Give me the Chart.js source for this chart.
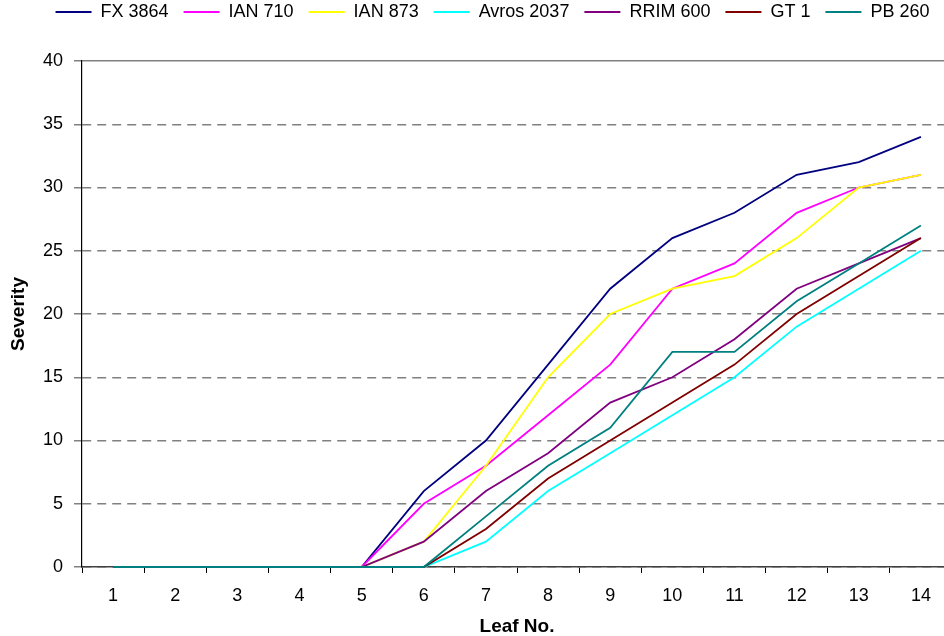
<!DOCTYPE html>
<html>
<head>
<meta charset="utf-8">
<script src="https://cdn.jsdelivr.net/npm/chart.js@4/dist/chart.umd.min.js"></script>
<style>
  html, body { margin: 0; padding: 0; background: #fff; overflow: hidden; }
  #frame { position: relative; width: 944px; height: 636px; overflow: hidden; background: #fff; }
  #box { position: absolute; left: 0; top: -12px; width: 985px; height: 648px; }
</style>
</head>
<body>
<div id="frame"><div id="box"><canvas id="c" width="985" height="648"></canvas></div></div>
<script>
// Leaf positions along the x axis
const leafNumbers = ['1', '2', '3', '4', '5', '6', '7', '8', '9', '10', '11', '12', '13', '14'];

// Disease severity per clone, one value per leaf
const fx3864    = [0, 0, 0, 0, 0, 6, 10, 16, 22, 26, 28, 31, 32, 34];
const ian710    = [0, 0, 0, 0, 0, 5, 8, 12, 16, 22, 24, 28, 30, 31];
const ian873    = [0, 0, 0, 0, 0, 2, 8, 15, 20, 22, 23, 26, 30, 31];
const avros2037 = [0, 0, 0, 0, 0, 0, 2, 6, 9, 12, 15, 19, 22, 25];
const rrim600   = [0, 0, 0, 0, 0, 2, 6, 9, 13, 15, 18, 22, 24, 26];
const gt1       = [0, 0, 0, 0, 0, 0, 3, 7, 10, 13, 16, 20, 23, 26];
const pb260     = [0, 0, 0, 0, 0, 0, 4, 8, 11, 17, 17, 21, 24, 27];

const seriesNames  = ['FX 3864', 'IAN 710', 'IAN 873', 'Avros 2037', 'RRIM 600', 'GT 1', 'PB 260'];
const seriesValues = [fx3864, ian710, ian873, avros2037, rrim600, gt1, pb260];
const seriesColors = ['#000080', '#FF00FF', '#FFFF00', '#00FFFF', '#800080', '#800000', '#008080'];

// Severity axis range and step
const yMin = 0, yMax = 40, yStep = 5;

Chart.defaults.font.family = "'Liberation Sans', Arial, Helvetica, sans-serif";
Chart.defaults.font.size = 18;
Chart.defaults.color = '#000';

const datasets = seriesNames.map((name, i) => ({
  label: name,
  data: seriesValues[i],
  borderColor: seriesColors[i],
  backgroundColor: seriesColors[i],
  borderWidth: 1.8,
  pointRadius: 0,
  pointHoverRadius: 0,
  tension: 0,
  fill: false,
  // keep the full stroke of lines that run along the zero line
  clip: 3,
  // later series are painted over earlier ones
  order: seriesNames.length - i
}));

new Chart(document.getElementById('c'), {
  type: 'line',
  data: { labels: leafNumbers, datasets },
  options: {
    responsive: false,
    animation: false,
    events: [],
    layout: { padding: 0 },
    plugins: {
      legend: {
        position: 'top',
        labels: {
          usePointStyle: true,
          pointStyle: 'line',
          pointStyleWidth: 36,
          padding: 15,
          color: '#000',
          font: { size: 18 },
          sort: (a, b) => a.datasetIndex - b.datasetIndex
        }
      },
      // empty spacer between the legend and the plot
      title: {
        display: true,
        text: '',
        weight: 500,
        position: 'top',
        font: { size: 10, lineHeight: 1 },
        padding: { top: 0, bottom: 20 }
      },
      tooltip: { enabled: false }
    },
    scales: {
      x: {
        type: 'category',
        offset: true,
        grid: {
          display: true,
          offset: true,
          drawOnChartArea: false,
          drawTicks: true,
          tickLength: 6,
          tickColor: '#000',
          tickWidth: 1
        },
        border: { display: true, color: '#404040', width: 1.5 },
        ticks: { padding: 12, color: '#000', font: { size: 18 }, maxRotation: 0, autoSkip: false },
        title: {
          display: true,
          text: 'Leaf No.',
          color: '#000',
          font: { size: 19, weight: 'bold', lineHeight: 1 },
          padding: { top: 8, bottom: 0 }
        },
        afterFit: (scale) => { scale.height = 69; }
      },
      y: {
        type: 'linear',
        position: 'left',
        min: yMin,
        max: yMax,
        ticks: { stepSize: yStep, padding: 11, color: '#000', font: { size: 18 } },
        grid: {
          color: '#808080',
          lineWidth: 1.5,
          drawTicks: true,
          tickLength: 8,
          tickColor: '#808080',
          tickBorderDash: []
        },
        border: {
          display: true,
          color: '#000',
          width: 1.2,
          // dashed horizontal grid lines, solid line along the top value
          dash: (ctx) => (ctx.tick && ctx.tick.value === yMax) ? [] : [9, 6]
        },
        title: {
          display: true,
          text: 'Severity',
          color: '#000',
          font: { size: 19, weight: 'bold', lineHeight: 1 },
          padding: { top: 9, bottom: 0 }
        },
        afterFit: (scale) => { scale.width = 82; }
      },
      yRight: {
        type: 'linear',
        position: 'right',
        display: true,
        grid: { display: false },
        ticks: { display: false },
        border: { display: false },
        afterFit: (scale) => { scale.width = 33; }
      }
    }
  }
});
</script>
</body>
</html>
